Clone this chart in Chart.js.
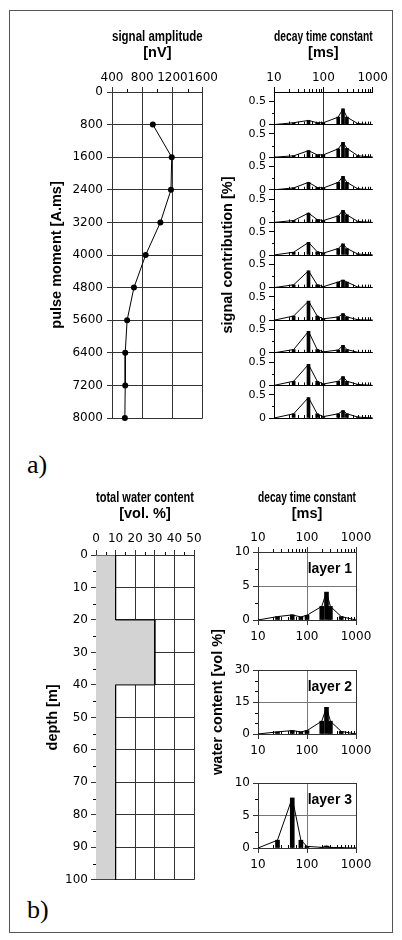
<!DOCTYPE html>
<html>
<head>
<meta charset="utf-8">
<script src="https://cdn.jsdelivr.net/npm/chart.js@4.4.0/dist/chart.umd.min.js"></script>
<style>
body { margin: 0; background: #fff; }
#page { position: relative; width: 402px; height: 940px; overflow: hidden; background: #fff; }
canvas { position: absolute; }
.frame { position: absolute; left: 9px; top: 10px; width: 384px; height: 923px; border: 1px solid #555; box-sizing: border-box; }
.tag { position: absolute; font-family: 'Liberation Serif', 'Times New Roman', serif; font-size: 26px; line-height: 26px; color: #000; }
</style>
</head>
<body>
<div id="page">
  <div class="frame"></div>
  <canvas id="amp" width="190" height="410" style="left:30px;top:20px"></canvas>
  <canvas id="decayA" width="190" height="410" style="left:200px;top:20px"></canvas>
  <div class="tag" style="left:27px;top:452px">a)</div>
  <canvas id="water" width="180" height="420" style="left:30px;top:470px"></canvas>
  <canvas id="layer1" width="180" height="180" style="left:210px;top:470px"></canvas>
  <canvas id="layer2" width="180" height="180" style="left:210px;top:600px"></canvas>
  <canvas id="layer3" width="180" height="140" style="left:210px;top:740px"></canvas>
  <div class="tag" style="left:27px;top:897px">b)</div>
</div>
<script>
// --- a) signal amplitude vs pulse moment
const pulseMoment = [800, 1600, 2400, 3200, 4000, 4800, 5600, 6400, 7200, 8000];
const amplitude = [940, 1190, 1180, 1040, 845, 690, 600, 575, 575, 570];

// decay time bins [ms]
const decayTime = [10, 25, 50, 75, 100, 200, 250, 300, 500, 1000];

// signal contribution [%] per pulse moment
const contrib800  = [0, 0.04, 0.09, 0.04, 0.04, 0.16, 0.34, 0.16, 0.02, 0];
const contrib1600 = [0, 0.03, 0.14, 0.05, 0.05, 0.18, 0.32, 0.19, 0.03, 0];
const contrib2400 = [0, 0.04, 0.16, 0.05, 0.04, 0.16, 0.29, 0.16, 0.02, 0];
const contrib3200 = [0, 0.04, 0.20, 0.06, 0.04, 0.14, 0.26, 0.16, 0.02, 0];
const contrib4000 = [0, 0.06, 0.27, 0.07, 0.04, 0.14, 0.24, 0.14, 0.02, 0];
const contrib4800 = [0, 0.06, 0.36, 0.06, 0.02, 0.12, 0.16, 0.12, 0.01, 0];
const contrib5600 = [0, 0.09, 0.41, 0.09, 0.03, 0.07, 0.14, 0.07, 0.01, 0];
const contrib6400 = [0, 0.07, 0.46, 0.07, 0.02, 0.06, 0.16, 0.07, 0.01, 0];
const contrib7200 = [0, 0.09, 0.45, 0.09, 0.03, 0.09, 0.19, 0.09, 0.02, 0];
const contrib8000 = [0, 0.09, 0.44, 0.09, 0.03, 0.09, 0.16, 0.09, 0.02, 0];
const contributions = [contrib800, contrib1600, contrib2400, contrib3200, contrib4000,
                       contrib4800, contrib5600, contrib6400, contrib7200, contrib8000];

// --- b) water content model
const layerTop = [0, 20, 40];
const layerBottom = [20, 40, 100];
const waterContent = [10, 30, 10];

// water content [vol %] per decay time bin
const layer1Water = [0, 0.5, 0.75, 0.45, 0.7, 2.0, 4.1, 2.0, 0.5, 0];
const layer2Water = [0, 1.0, 1.6, 1.0, 1.6, 6.0, 12.5, 6.0, 1.2, 0];
const layer3Water = [0, 1.2, 7.7, 1.2, 0.25, 0.1, 0.3, 0.1, 0.05, 0];

// tick positions
const decades = [10, 100, 1000];
const logMinor = [20, 30, 40, 50, 60, 70, 80, 90, 200, 300, 400, 500, 600, 700, 800, 900];

Chart.defaults.font.family = "'DejaVu Sans', sans-serif";
Chart.defaults.font.size = 12;
Chart.defaults.color = '#000';
Chart.defaults.animation = false;
Chart.defaults.responsive = false;
Chart.defaults.plugins.legend.display = false;
Chart.defaults.plugins.tooltip.enabled = false;

const titleFont = {family: "'Liberation Sans', Arial, sans-serif", size: 14.5, weight: 'bold', lineHeight: '16px'};
const GRID = '#333';
const INNER = '#777';
const NONE = 'rgba(0,0,0,0)';
const num = v => String(v);
const keepDecades = s => { s.ticks = s.ticks.filter(t => decades.includes(t.value)); };

// short minor tick marks, drawn through the chart scales
function markPlugin(draw) {
    return {
        id: 'marks',
        afterDraw(chart) {
            const ctx = chart.ctx;
            ctx.save();
            ctx.strokeStyle = '#000';
            ctx.lineWidth = 1;
            ctx.beginPath();
            draw(chart, ctx);
            ctx.stroke();
            ctx.restore();
        }
    };
}
function marksX(ctx, scale, values, y, len) {
    values.forEach(v => {
        const x = Math.round(scale.getPixelForValue(v)) + 0.5;
        ctx.moveTo(x, y);
        ctx.lineTo(x, y + len);
    });
}
function marksY(ctx, scale, values, x, len) {
    values.forEach(v => {
        const y = Math.round(scale.getPixelForValue(v)) + 0.5;
        ctx.moveTo(x, y);
        ctx.lineTo(x + len, y);
    });
}
const layerLabel = {
    id: 'layerLabel',
    afterDraw(chart, args, opts) {
        if (!opts.text) return;
        const {ctx, chartArea: a} = chart;
        ctx.save();
        ctx.font = "bold 14px 'Liberation Sans', Arial, sans-serif";
        ctx.textAlign = 'right';
        ctx.textBaseline = 'middle';
        ctx.fillStyle = '#000';
        ctx.fillText(opts.text, a.right - 4, a.top + 17);
        ctx.restore();
    }
};

// ---------- a) left: signal amplitude
new Chart(document.getElementById('amp'), {
    type: 'line',
    data: {
        datasets: [{
            data: pulseMoment.map((q, i) => ({x: amplitude[i], y: q})),
            borderColor: '#000', borderWidth: 1, tension: 0, clip: false,
            pointRadius: 3, pointBackgroundColor: '#000', pointBorderWidth: 0
        }]
    },
    options: {
        layout: {padding: {left: 0, right: 10, top: 0, bottom: 12}},
        plugins: {
            title: {display: true, text: ['signal amplitude', '[nV]'], font: titleFont, color: '#000',
                    padding: {top: 9, bottom: 4}, fullSize: false}
        },
        scales: {
            x: {type: 'linear', position: 'top', min: 400, max: 1600,
                ticks: {stepSize: 400, padding: 2, maxRotation: 0, autoSkip: false, callback: num},
                grid: {color: GRID, tickLength: 5}, border: {color: GRID},
                afterFit: s => { s.height = 27; }},
            y: {type: 'linear', reverse: true, min: 0, max: 8000,
                ticks: {stepSize: 800, padding: 4, autoSkip: false, callback: num},
                grid: {color: GRID, tickLength: 5}, border: {color: GRID},
                title: {display: true, text: 'pulse moment [A.ms]', font: titleFont, color: '#000', padding: {top: 19, bottom: 0}},
                afterFit: s => { s.width = 82; }}
        }
    },
    plugins: [markPlugin((c, ctx) => marksX(ctx, c.scales.x, [600, 1000, 1400], c.chartArea.top, -3))]
});

// ---------- a) right: decay time distributions, one stacked axis per pulse moment
const decayScales = {
    x: {type: 'logarithmic', position: 'top', min: 10, max: 1000, offset: false,
        afterBuildTicks: keepDecades,
        ticks: {callback: num, padding: 2, maxRotation: 0, autoSkip: false},
        grid: {offset: false, color: c => (c.tick && c.tick.value === 100) ? GRID : NONE, tickColor: '#000', tickLength: 5},
        border: {color: '#000'},
        afterFit: s => { s.height = 27; }},
    yt: {type: 'linear', position: 'left', weight: 20,
         ticks: {display: false}, grid: {display: false}, border: {display: false},
         title: {display: true, text: 'signal contribution [%]', font: titleFont, color: '#000', padding: {top: 20, bottom: 0}},
         afterFit: s => { s.width = 34; }}
};
const decayDatasets = [];
contributions.forEach((vals, i) => {
    decayScales['y' + i] = {
        type: 'linear', position: 'left', stack: 'sig', stackWeight: 1, weight: 9 - i,
        min: 0, max: 0.7, offset: false,
        ticks: {stepSize: 0.5, includeBounds: false, padding: 3, font: {size: 11}, callback: num},
        grid: {color: c => (c.tick && c.tick.value === 0) ? '#000' : NONE, tickColor: '#000', tickLength: 5},
        border: {color: '#000'},
        afterFit: s => { s.width = 40; }
    };
    const pts = decayTime.map((t, j) => ({x: t, y: vals[j]}));
    decayDatasets.push({type: 'bar', data: pts, xAxisID: 'x', yAxisID: 'y' + i,
                        backgroundColor: '#000', barThickness: 3, grouped: false});
    decayDatasets.push({type: 'line', data: pts, xAxisID: 'x', yAxisID: 'y' + i,
                        borderColor: '#000', borderWidth: 1, pointRadius: 0, tension: 0});
});
new Chart(document.getElementById('decayA'), {
    type: 'bar',
    data: {datasets: decayDatasets},
    options: {
        layout: {padding: {left: 0, right: 17, top: 0, bottom: 12}},
        plugins: {
            title: {display: true, text: ['decay time constant', '[ms]'], font: titleFont, color: '#000',
                    padding: {top: 9, bottom: 4}, fullSize: false}
        },
        scales: decayScales
    },
    plugins: [markPlugin((c, ctx) => {
        const a = c.chartArea;
        marksX(ctx, c.scales.x, logMinor, a.top, -3);
        contributions.forEach((v, i) => {
            const ys = c.scales['y' + i];
            marksX(ctx, c.scales.x, logMinor, ys.getPixelForValue(0), -3);
            marksY(ctx, ys, [0.25], a.left, -2);
        });
    })]
});

// ---------- b) left: total water content vs depth
const profile = [{x: 0, y: layerTop[0]}];
waterContent.forEach((w, i) => {
    profile.push({x: w, y: layerTop[i]});
    profile.push({x: w, y: layerBottom[i]});
});
profile.push({x: 0, y: layerBottom[layerBottom.length - 1]});

new Chart(document.getElementById('water'), {
    type: 'line',
    data: {
        datasets: [{data: profile, fill: 'shape', backgroundColor: '#d3d3d3',
                    borderColor: '#000', borderWidth: 1, pointRadius: 0, tension: 0}]
    },
    options: {
        layout: {padding: {left: 0, right: 16, top: 0, bottom: 10}},
        plugins: {
            title: {display: true, text: ['total water content', '[vol. %]'], font: titleFont, color: '#000',
                    padding: {top: 20, bottom: 4}, fullSize: false}
        },
        scales: {
            x: {type: 'linear', position: 'top', min: 0, max: 50,
                ticks: {stepSize: 10, padding: 4, maxRotation: 0, autoSkip: false, callback: num},
                grid: {color: GRID, tickLength: 5}, border: {color: GRID},
                afterFit: s => { s.height = 29; }},
            y: {type: 'linear', reverse: true, min: 0, max: 100,
                ticks: {stepSize: 10, padding: 3, autoSkip: false, callback: num},
                grid: {color: GRID, tickLength: 5}, border: {color: GRID},
                title: {display: true, text: 'depth [m]', font: titleFont, color: '#000', padding: {top: 15, bottom: 0}},
                afterFit: s => { s.width = 66; }}
        }
    },
    plugins: [markPlugin((c, ctx) => {
        marksX(ctx, c.scales.x, [5, 15, 25, 35, 45], c.chartArea.top, -3);
        marksY(ctx, c.scales.y, [5, 15, 25, 35, 45, 55, 65, 75, 85, 95], c.chartArea.left, -3);
    })]
});

// ---------- b) right: water content per decay time, one chart per layer
function layerChart(id, label, values, yMax, yStep, yMinor, cfg) {
    const scales = {
        x: {type: 'logarithmic', position: 'bottom', min: 10, max: 1000, offset: false,
            afterBuildTicks: keepDecades,
            ticks: {callback: num, padding: 5, maxRotation: 0, autoSkip: false},
            grid: {offset: false, color: c => (c.tick && c.tick.value === 100) ? INNER : GRID, tickColor: GRID, tickLength: 5},
            border: {color: GRID},
            afterFit: s => { s.height = 30; }},
        y: {type: 'linear', min: 0, max: yMax, offset: false,
            ticks: {stepSize: yStep, padding: 3, callback: num},
            grid: {color: c => (c.tick && c.tick.value === yMax / 2) ? INNER : GRID, tickColor: GRID, tickLength: 5},
            border: {color: GRID},
            title: cfg.yTitle ? {display: true, text: cfg.yTitle, font: titleFont, color: '#000', padding: {top: 0, bottom: 0}}
                              : {display: false},
            afterFit: s => { s.width = 48; }}
    };
    if (cfg.topAxis) {
        scales.xt = {type: 'logarithmic', position: 'top', min: 10, max: 1000, offset: false,
                     afterBuildTicks: keepDecades,
                     ticks: {callback: num, padding: 2, maxRotation: 0, autoSkip: false},
                     grid: {offset: false, drawOnChartArea: false, color: GRID, tickLength: 5},
                     border: {color: GRID},
                     afterFit: s => { s.height = cfg.topAxis; }};
    }
    const pts = decayTime.map((t, j) => ({x: t, y: values[j]}));
    new Chart(document.getElementById(id), {
        type: 'bar',
        data: {
            datasets: [
                {type: 'bar', data: pts, backgroundColor: '#000', barThickness: 4, grouped: false},
                {type: 'line', data: pts, borderColor: '#000', borderWidth: 1, pointRadius: 0, tension: 0}
            ]
        },
        options: {
            layout: {padding: cfg.padding},
            plugins: {
                title: cfg.title ? {display: true, text: cfg.title, font: titleFont, color: '#000',
                                    padding: {top: 20, bottom: 4}, fullSize: false} : {display: false},
                layerLabel: {text: label}
            },
            scales: scales
        },
        plugins: [layerLabel, markPlugin((c, ctx) => {
            const a = c.chartArea;
            marksX(ctx, c.scales.x, logMinor, a.bottom, -3);
            if (cfg.topAxis) marksX(ctx, c.scales.x, logMinor, a.top, -3);
            marksY(ctx, c.scales.y, yMinor, a.left, -3);
        })]
    });
}

layerChart('layer1', 'layer 1', layer1Water, 10, 5, [2.5, 7.5],
           {title: ['decay time constant', '[ms]'], topAxis: 26, padding: {left: 0, right: 34, top: 0, bottom: 0}});
layerChart('layer2', 'layer 2', layer2Water, 30, 15, [5, 10, 20, 25],
           {yTitle: 'water content [vol %]', padding: {left: 0, right: 34, top: 70, bottom: 16}});
layerChart('layer3', 'layer 3', layer3Water, 10, 5, [2.5, 7.5],
           {padding: {left: 0, right: 34, top: 43, bottom: 2}});
</script>
</body>
</html>
